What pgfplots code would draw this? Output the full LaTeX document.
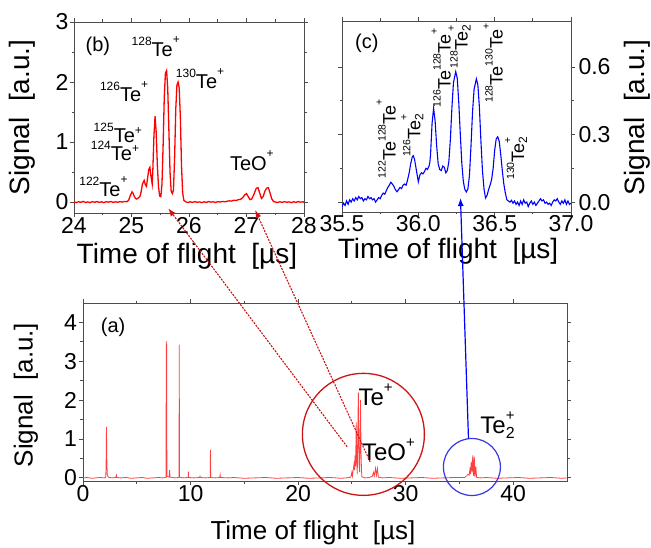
\documentclass[border=0pt]{standalone}
\usepackage{pgfplots}
\pgfplotsset{compat=1.18}
\usepackage{fontspec}
\setmainfont{Liberation Sans}
\usetikzlibrary{arrows.meta}
\newcommand{\fs}[1]{\fontsize{#1}{#1}\selectfont}
\newcommand{\su}[1]{\raisebox{11pt}{\fs{12}#1}}
\newcommand{\spl}[1]{\raisebox{13pt}{\fs{12}#1}}
\newcommand{\spll}[1]{\raisebox{8pt}{\fs{12}#1}}
\newcommand{\csu}[1]{\raisebox{10pt}{\fs{10.5}#1}}
\newcommand{\csp}[1]{\raisebox{13pt}{\fs{10.5}#1}}
\newcommand{\csub}[1]{\raisebox{-3pt}{\fs{12}#1}}
\definecolor{frame}{gray}{0.3}
\definecolor{circred}{RGB}{205,20,20}
\definecolor{circblue}{RGB}{55,55,230}
\pgfplotsset{
  myax/.style={scale only axis, anchor=south west, clip mode=individual,
    axis line style={frame, line width=0.8pt},
    tick style={frame, line width=0.8pt},
    tick align=outside, major tick length=4pt, minor tick length=2.5pt,
    tick label style={font=\fs{23}},
    xticklabel style={yshift=3pt},
    label style={font=\fs{28}},
    /pgf/number format/assume math mode=true,
  }
}
\begin{document}
\begin{tikzpicture}
\useasboundingbox (0,0) rectangle (651pt,547pt);
% ---------------- panel (b)
\begin{axis}[myax, at={(74pt,334pt)}, width=230pt, height=191pt,
  xmin=24, xmax=28, ymin=-0.183, ymax=3,
  xtick={24,25,26,27,28}, ytick={0,1,2,3}, minor tick num=1,
  yticklabel style={xshift=2pt},
  xlabel={Time of flight\ \ [µs]}, ylabel={Signal\ \ [a.u.]},
  xlabel style={at={(axis description cs:0.491,-0.263)}, anchor=base},
  ylabel style={at={(axis description cs:-0.226,0.5)}, anchor=center},
]
\addplot[red, line width=1.3pt] table {
24.00 0.000
24.04 -0.010
24.08 0.005
24.12 -0.005
24.16 0.010
24.20 -0.008
24.24 0.002
24.28 -0.010
24.32 0.006
24.36 -0.004
24.40 0.008
24.44 -0.006
24.48 0.004
24.52 -0.010
24.56 0.005
24.60 -0.002
24.64 0.008
24.68 -0.006
24.72 0.004
24.76 -0.004
24.80 0.006
24.84 0.000
24.88 0.010
24.92 0.005
24.95 0.030
24.98 0.110
25.01 0.170
25.03 0.140
25.05 0.090
25.07 0.060
25.09 0.050
25.11 0.060
25.13 0.080
25.15 0.100
25.17 0.180
25.19 0.300
25.22 0.360
25.24 0.290
25.26 0.260
25.28 0.400
25.30 0.540
25.32 0.580
25.34 0.420
25.36 0.300
25.37 0.500
25.39 1.100
25.41 1.430
25.43 1.150
25.45 0.600
25.47 0.250
25.49 0.100
25.51 0.090
25.53 0.300
25.55 0.950
25.57 1.750
25.59 2.150
25.61 2.190
25.63 1.900
25.65 1.200
25.67 0.500
25.69 0.180
25.71 0.140
25.73 0.200
25.75 0.750
25.77 1.550
25.79 1.950
25.81 2.000
25.83 1.900
25.85 1.400
25.87 0.600
25.89 0.150
25.91 0.030
25.94 0.005
25.98 -0.008
26.02 0.004
26.06 -0.006
26.10 0.006
26.14 -0.004
26.18 0.002
26.22 -0.010
26.26 0.004
26.30 -0.006
26.34 0.008
26.38 -0.002
26.42 0.004
26.46 -0.008
26.50 0.006
26.54 0.000
26.58 0.010
26.62 0.004
26.66 0.012
26.70 0.020
26.74 0.015
26.78 0.030
26.82 0.025
26.86 0.040
26.90 0.045
26.94 0.080
26.97 0.120
27.00 0.140
27.03 0.090
27.06 0.040
27.09 0.050
27.13 0.130
27.17 0.230
27.20 0.240
27.23 0.150
27.26 0.060
27.29 0.090
27.32 0.180
27.35 0.230
27.38 0.240
27.41 0.150
27.44 0.050
27.47 0.010
27.50 0.000
27.54 -0.008
27.58 0.004
27.62 -0.006
27.66 0.006
27.70 -0.004
27.74 0.002
27.78 -0.010
27.82 0.004
27.86 -0.006
27.90 0.008
27.94 -0.002
27.98 0.004
28.00 -0.004
};
\node[anchor=west, inner sep=0, font=\fs{20}] at (axis cs:24.2,2.6) {(b)};
\node[anchor=base west, inner sep=0, font=\fs{20}] at (axis cs:25.0,2.42) {\su{128}Te\spl{+}};
\node[anchor=base west, inner sep=0, font=\fs{20}] at (axis cs:25.77,1.90) {\su{130}Te\spl{+}};
\node[anchor=base west, inner sep=0, font=\fs{20}] at (axis cs:24.45,1.67) {\su{126}Te\spl{+}};
\node[anchor=base west, inner sep=0, font=\fs{20}] at (axis cs:24.34,1.00) {\su{125}Te\spll{+}};
\node[anchor=base west, inner sep=0, font=\fs{20}] at (axis cs:24.29,0.70) {\su{124}Te\spll{+}};
\node[anchor=base west, inner sep=0, font=\fs{20}] at (axis cs:24.09,0.09) {\su{122}Te\spl{+}};
\node[anchor=base west, inner sep=0, font=\fs{20}] at (axis cs:26.71,0.52) {TeO\spl{+}};
\coordinate (bA) at (axis cs:25.64,-0.105);
\coordinate (bB) at (axis cs:27.15,-0.133);
\end{axis}
% ---------------- panel (c)
\begin{axis}[myax, at={(342pt,335pt)}, width=229pt, height=191pt,
  xmin=35.5, xmax=37.0, ymin=-0.044, ymax=0.804,
  xtick={35.5,36.0,36.5,37.0}, ytick={0,0.3,0.6}, minor tick num=1,
  xticklabel style={yshift=1pt, /pgf/number format/.cd, fixed, fixed zerofill, precision=1},
  yticklabel style={/pgf/number format/.cd, fixed, fixed zerofill, precision=1},
  yticklabel pos=right, ytick pos=both,
  xlabel={Time of flight\ \ [µs]}, ylabel={Signal\ \ [a.u.]},
  xlabel style={at={(axis description cs:0.463,-0.245)}, anchor=base},
  ylabel style={at={(axis description cs:1.288,0.495)}, anchor=center},
]
\addplot[blue, line width=1.1pt] table {
35.500 -0.020
35.510 -0.005
35.520 -0.015
35.530 0.005
35.540 -0.010
35.550 0.010
35.560 0.000
35.570 0.015
35.580 0.005
35.590 0.020
35.600 0.010
35.610 0.025
35.620 0.015
35.630 0.020
35.640 0.005
35.650 0.015
35.660 0.010
35.670 0.025
35.680 0.015
35.690 0.020
35.700 0.010
35.710 0.015
35.720 0.000
35.730 0.010
35.740 0.020
35.750 0.015
35.760 0.030
35.770 0.040
35.780 0.035
35.790 0.050
35.800 0.065
35.810 0.075
35.820 0.088
35.830 0.080
35.840 0.070
35.850 0.055
35.860 0.046
35.870 0.055
35.880 0.065
35.890 0.060
35.900 0.075
35.910 0.080
35.920 0.075
35.930 0.100
35.940 0.130
35.950 0.170
35.960 0.200
35.967 0.206
35.975 0.190
35.985 0.150
35.995 0.110
36.000 0.090
36.010 0.120
36.020 0.130
36.030 0.125
36.040 0.135
36.050 0.150
36.060 0.145
36.070 0.160
36.075 0.175
36.080 0.210
36.085 0.280
36.090 0.350
36.100 0.416
36.110 0.360
36.120 0.250
36.130 0.170
36.140 0.145
36.150 0.140
36.160 0.160
36.170 0.155
36.180 0.130
36.190 0.140
36.200 0.180
36.210 0.280
36.220 0.420
36.230 0.530
36.245 0.579
36.255 0.550
36.265 0.440
36.275 0.300
36.285 0.170
36.295 0.090
36.305 0.055
36.315 0.045
36.325 0.060
36.335 0.120
36.345 0.250
36.355 0.400
36.365 0.500
36.380 0.547
36.390 0.520
36.400 0.420
36.410 0.270
36.420 0.140
36.430 0.060
36.440 0.018
36.450 0.030
36.460 0.055
36.470 0.075
36.480 0.100
36.490 0.150
36.500 0.230
36.510 0.280
36.520 0.290
36.530 0.270
36.540 0.210
36.550 0.140
36.560 0.080
36.570 0.040
36.580 0.010
36.590 0.005
36.600 0.000
36.610 0.008
36.620 -0.005
36.630 0.005
36.640 -0.010
36.650 0.000
36.660 -0.015
36.670 0.005
36.680 -0.010
36.690 0.010
36.700 -0.005
36.710 0.000
36.720 -0.020
36.730 -0.005
36.740 0.005
36.750 -0.010
36.760 0.000
36.770 -0.015
36.780 -0.005
36.790 0.005
36.800 0.015
36.810 0.005
36.820 0.010
36.830 -0.005
36.840 0.000
36.850 -0.010
36.860 -0.005
36.870 -0.015
36.880 0.000
36.890 0.010
36.900 0.005
36.910 0.015
36.920 0.000
36.930 -0.010
36.940 0.005
36.950 -0.005
36.960 0.010
36.970 -0.010
36.980 0.005
36.990 -0.010
37.000 -0.005
};
\node[anchor=west, inner sep=0, font=\fs{20}] at (axis cs:35.585,0.705) {(c)};
\node[anchor=west, rotate=90, inner sep=0, font=\fs{18}] at (axis cs:35.79,0.105) {\csu{122}Te\csu{128}Te\csp{+}};
\node[anchor=west, rotate=90, inner sep=0, font=\fs{18}] at (axis cs:35.96,0.20) {\csu{126}Te\rlap{\csub{2}}\csp{+}};
\node[anchor=west, rotate=90, inner sep=0, font=\fs{18}] at (axis cs:36.15,0.42) {\csu{126}Te\csu{128}Te\csp{+}};
\node[anchor=west, rotate=90, inner sep=0, font=\fs{18}] at (axis cs:36.27,0.594) {\csu{128}Te\rlap{\csub{2}}\csp{+}};
\node[anchor=west, rotate=90, inner sep=0, font=\fs{18}] at (axis cs:36.49,0.44) {\csu{128}Te\csu{130}Te\csp{+}};
\node[anchor=west, rotate=90, inner sep=0, font=\fs{18}] at (axis cs:36.64,0.098) {\csu{130}Te\rlap{\csub{2}}\csp{+}};
\coordinate (cC) at (axis cs:36.276,0.018);
\end{axis}
% ---------------- panel (a)
\begin{axis}[myax, at={(83pt,66pt)}, width=484pt, height=178pt,
  xmin=0, xmax=45, ymin=-0.08, ymax=4.5,
  xtick={0,10,20,30,40}, ytick={0,1,2,3,4}, minor tick num=1,
  yticklabel style={xshift=1.5pt},
  xlabel={Time of flight\ \ [µs]}, ylabel={Signal\ \ [a.u.]},
  label style={font=\fs{26}},
  xlabel style={at={(axis description cs:0.475,-0.331)}, anchor=base},
  ylabel style={at={(axis description cs:-0.118,0.483)}, anchor=center},
]
\addplot[red!75, line width=0.8pt] table {
0.0 0.00
0.4 0.01
0.8 -0.01
1.2 0.00
1.6 0.01
2.0 0.00
2.12 0.02
2.16 0.60
2.18 1.31
2.20 0.90
2.22 0.40
2.26 0.08
2.35 0.02
2.7 0.00
3.05 0.01
3.10 0.07
3.15 0.01
3.5 0.00
4.0 0.01
4.5 -0.01
5.0 0.00
5.5 0.01
6.0 -0.01
6.5 0.00
7.0 0.01
7.4 0.00
7.72 0.01
7.74 3.52
7.76 0.05
7.78 3.45
7.80 0.03
8.00 0.02
8.05 0.20
8.10 0.02
8.5 0.00
8.93 0.01
8.95 3.43
8.97 0.02
9.3 0.00
9.78 0.01
9.80 0.16
9.82 0.01
10.3 0.00
10.85 0.01
10.88 0.04
10.91 0.01
11.4 0.00
11.83 0.01
11.85 0.72
11.87 0.01
12.3 0.00
12.72 0.01
12.75 0.08
12.78 0.01
13.5 0.00
14.0 0.01
15.0 -0.01
16.0 0.00
17.0 0.01
18.0 -0.01
19.0 0.00
20.0 0.01
21.0 -0.01
22.0 0.00
23.0 0.01
24.0 -0.01
24.5 0.00
24.9 0.02
25.0 0.15
25.05 0.05
25.2 0.36
25.25 0.20
25.3 0.58
25.35 0.30
25.4 1.43
25.45 0.50
25.5 0.10
25.6 2.20
25.66 0.40
25.72 0.15
25.8 2.00
25.86 0.50
25.92 0.03
26.2 0.00
26.6 0.01
26.9 0.04
27.0 0.14
27.08 0.05
27.2 0.25
27.28 0.07
27.38 0.24
27.46 0.02
27.8 0.00
28.5 0.01
29.5 -0.01
30.5 0.00
31.5 0.01
32.5 -0.01
33.5 0.00
34.5 0.01
35.5 0.01
35.8 0.09
35.9 0.07
35.97 0.21
36.02 0.10
36.1 0.42
36.17 0.14
36.24 0.58
36.31 0.05
36.38 0.55
36.44 0.02
36.52 0.29
36.6 0.01
37.0 0.00
37.5 0.01
38.5 -0.01
39.5 0.00
40.5 0.01
41.5 -0.01
42.5 0.00
43.5 0.01
44.5 -0.01
45.0 0.00
};
\node[anchor=west, inner sep=0, font=\fs{20}] at (axis cs:1.65,3.88) {(a)};
\node[anchor=base west, inner sep=0, font=\fs{24}] at (axis cs:25.6,1.86) {Te\raisebox{13pt}{\fs{15}+}};
\node[anchor=base west, inner sep=0, font=\fs{24}] at (axis cs:25.93,0.46) {TeO\raisebox{13pt}{\fs{15}+}};
\node[anchor=base west, inner sep=0, font=\fs{24}] at (axis cs:36.93,1.15) {Te\rlap{\raisebox{-5pt}{\fs{16}2}}\raisebox{13pt}{\fs{15}+}};
\draw[circred, line width=1.3pt] (axis cs:26.07,1.12) circle[radius=61pt];
\draw[circblue, line width=1.2pt] (axis cs:36.16,0.28) circle[radius=28.5pt];
\coordinate (aA) at (axis cs:24.56,0.8);
\coordinate (aB) at (axis cs:26.7,0.41);
\coordinate (aC) at (axis cs:35.84,1.02);
\end{axis}
% ---------------- connectors
\draw[circred, line width=1.1pt, dash pattern=on 2pt off 1.2pt, -{Latex[length=8pt,width=6pt]}] (aA) -- (bA);
\draw[circred, line width=1.1pt, dash pattern=on 2pt off 1.2pt, -{Latex[length=8pt,width=6pt]}] (aB) -- (bB);
\draw[blue, line width=1.2pt, -{Latex[length=8pt,width=6pt]}] (aC) -- (cC);
\end{tikzpicture}
\end{document}
